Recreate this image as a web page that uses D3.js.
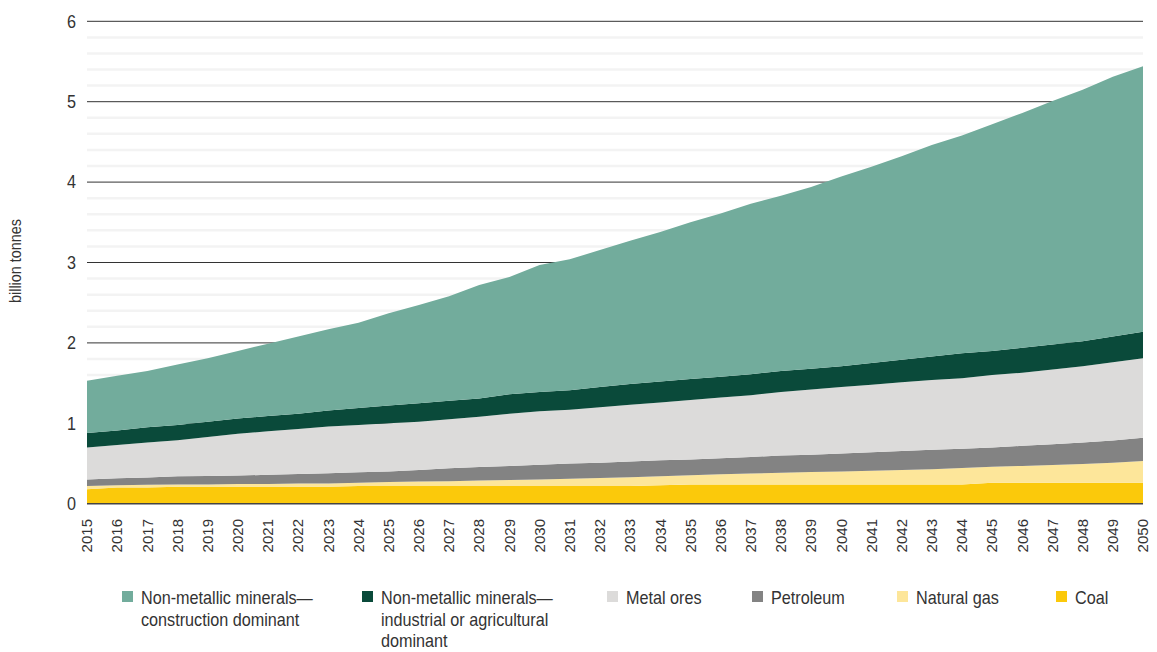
<!DOCTYPE html>
<html>
<head>
<meta charset="utf-8">
<script src="https://cdn.jsdelivr.net/npm/d3@7"></script>
<style>
  html, body { margin: 0; padding: 0; background: #fff; }
  svg { display: block; }
  .cond { font-family: "Liberation Sans", Arial, sans-serif; }
</style>
</head>
<body>
<svg id="chart" width="1157" height="652"></svg>
<script>
const years = d3.range(2015, 2051);
const yTicks = [0, 1, 2, 3, 4, 5, 6];
const yTitle = "billion tonnes";

const coal = [0.18,0.20,0.20,0.21,0.21,0.21,0.21,0.21,0.21,0.22,0.22,0.22,0.22,0.22,0.22,0.22,0.22,0.22,0.22,0.23,0.24,0.24,0.24,0.24,0.24,0.24,0.24,0.24,0.24,0.24,0.26,0.26,0.26,0.26,0.26,0.26];
const naturalGas = [0.04,0.03,0.035,0.03,0.03,0.035,0.035,0.04,0.04,0.04,0.05,0.055,0.06,0.07,0.075,0.08,0.09,0.10,0.11,0.11,0.115,0.125,0.135,0.145,0.155,0.16,0.17,0.18,0.19,0.205,0.20,0.21,0.22,0.235,0.25,0.27];
const petroleum = [0.08,0.085,0.09,0.10,0.105,0.105,0.115,0.12,0.13,0.13,0.13,0.145,0.16,0.165,0.175,0.185,0.19,0.19,0.195,0.20,0.195,0.20,0.205,0.215,0.215,0.225,0.23,0.235,0.24,0.24,0.24,0.25,0.26,0.265,0.275,0.29];
const metalOres = [0.40,0.415,0.435,0.45,0.485,0.52,0.54,0.56,0.58,0.59,0.60,0.60,0.61,0.625,0.65,0.665,0.67,0.69,0.705,0.72,0.74,0.755,0.77,0.79,0.81,0.825,0.84,0.855,0.87,0.875,0.90,0.91,0.93,0.95,0.975,0.99];
const nonMetIndustrial = [0.18,0.18,0.19,0.19,0.19,0.19,0.19,0.19,0.20,0.21,0.22,0.23,0.23,0.23,0.24,0.24,0.24,0.25,0.26,0.26,0.26,0.26,0.26,0.26,0.26,0.26,0.27,0.28,0.29,0.31,0.30,0.31,0.31,0.31,0.32,0.33];
const nonMetConstruction = [0.65,0.68,0.70,0.75,0.79,0.84,0.90,0.96,1.01,1.06,1.15,1.22,1.30,1.41,1.46,1.58,1.63,1.705,1.78,1.86,1.95,2.03,2.12,2.18,2.26,2.36,2.44,2.53,2.63,2.71,2.82,2.92,3.03,3.13,3.23,3.30];

// stacking order bottom -> top
const seriesKeys = ["coal","gas","petroleum","metal","industrial","construction"];
const seriesValues = { coal: coal, gas: naturalGas, petroleum: petroleum, metal: metalOres, industrial: nonMetIndustrial, construction: nonMetConstruction };
const colors = { coal: "#fbc90b", gas: "#fde69a", petroleum: "#838383", metal: "#dcdbda", industrial: "#0a4a3a", construction: "#72ac9c" };

// legend order (left -> right)
const legendItems = [
  { key: "construction", lines: ["Non-metallic minerals\u2014", "construction dominant"] },
  { key: "industrial", lines: ["Non-metallic minerals\u2014", "industrial or agricultural", "dominant"] },
  { key: "metal", lines: ["Metal ores"] },
  { key: "petroleum", lines: ["Petroleum"] },
  { key: "gas", lines: ["Natural gas"] },
  { key: "coal", lines: ["Coal"] }
];
const legendX = [122, 362, 607, 752, 897, 1056];

const table = years.map((yr, i) => {
  const row = { year: yr };
  seriesKeys.forEach(k => row[k] = seriesValues[k][i]);
  return row;
});

const svg = d3.select("#chart");
const x = d3.scaleLinear().domain([2015, 2050]).range([87, 1143]);
const y = d3.scaleLinear().domain([0, 6]).range([503.7, 21.3]);
const SX = 0.9; // horizontal condensing for the narrow typeface look

// minor gridlines
const minor = d3.range(0.2, 6, 0.2).filter(v => Math.abs(v - Math.round(v)) > 0.01);
svg.append("g").selectAll("line").data(minor).join("line")
  .attr("x1", x(2015)).attr("x2", x(2050))
  .attr("y1", d => y(d)).attr("y2", d => y(d))
  .attr("stroke", "#f3f3f3").attr("stroke-width", 2.5);

// major gridlines
svg.append("g").selectAll("line").data(yTicks.filter(d => d > 0)).join("line")
  .attr("x1", x(2015)).attr("x2", x(2050))
  .attr("y1", d => y(d)).attr("y2", d => y(d))
  .attr("stroke", "#333").attr("stroke-width", 1);

// stacked areas
const stack = d3.stack().keys(seriesKeys);
const layers = stack(table);
const area = d3.area()
  .x(d => x(d.data.year))
  .y0(d => y(d[0]))
  .y1(d => y(d[1]));
svg.append("g").selectAll("path").data(layers).join("path")
  .attr("d", area)
  .attr("fill", d => colors[d.key]);

// baseline
svg.append("line")
  .attr("x1", x(2015)).attr("x2", x(2050))
  .attr("y1", y(0)).attr("y2", y(0))
  .attr("stroke", "#444").attr("stroke-width", 1.5);

// y labels
svg.append("g").selectAll("text").data(yTicks).join("text")
  .attr("class", "cond")
  .attr("transform", d => `translate(76,${y(d)}) scale(${SX},1)`)
  .attr("dy", "0.35em")
  .attr("text-anchor", "end")
  .attr("font-size", 18)
  .attr("fill", "#333")
  .text(d => d);

// y title
svg.append("text")
  .attr("class", "cond")
  .attr("transform", `translate(21,261) rotate(-90) scale(${SX},1)`)
  .attr("text-anchor", "middle")
  .attr("font-size", 16)
  .attr("fill", "#333")
  .text(yTitle);

// x labels
svg.append("g").selectAll("text").data(years).join("text")
  .attr("transform", d => `translate(${x(d)},519) rotate(-90)`)
  .attr("text-anchor", "end")
  .attr("dy", "0.35em")
  .attr("font-family", "Liberation Sans, Arial, sans-serif")
  .attr("font-size", 15)
  .attr("fill", "#333")
  .text(d => d);

// legend
const lg = svg.append("g").selectAll("g").data(legendItems).join("g")
  .attr("transform", (d, i) => `translate(${legendX[i]},0)`);
lg.append("rect")
  .attr("x", 0).attr("y", 591).attr("width", 11).attr("height", 11)
  .attr("fill", d => colors[d.key]);
lg.append("text")
  .attr("class", "cond")
  .attr("transform", `translate(19,598) scale(${SX},1)`)
  .attr("font-size", 18)
  .attr("fill", "#333")
  .selectAll("tspan").data(d => d.lines).join("tspan")
  .attr("x", 0)
  .attr("dy", (d, i) => i === 0 ? "0.35em" : "21.5px")
  .text(d => d);
</script>
</body>
</html>
